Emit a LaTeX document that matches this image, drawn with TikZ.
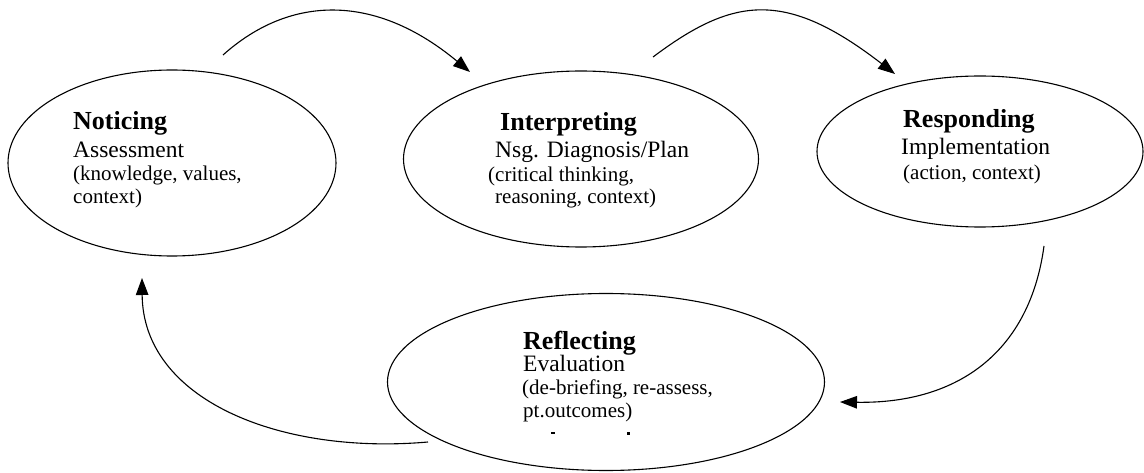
\documentclass[tikz,border=0pt]{standalone}
\usepackage{fontspec}
\setmainfont{Liberation Serif}
\usetikzlibrary{shapes.geometric,arrows.meta}

\tikzset{
  stage/.style={ellipse, draw, line width=1.1pt, inner sep=0pt},
  head/.style={anchor=base west, inner sep=0pt, font=\fontsize{26}{30}\selectfont\bfseries},
  body/.style={anchor=base west, inner sep=0pt, font=\fontsize{23.5}{28}\selectfont},
  note/.style={anchor=base west, inner sep=0pt, font=\fontsize{21}{25}\selectfont},
  flow/.style={line width=1.1pt, -{Triangle[length=17pt,width=12.5pt]}}
}

\begin{document}
\begin{tikzpicture}[x=1pt,y=-1pt]
\useasboundingbox (0,0) rectangle (1144,473);

% the four stages of the cycle
\node[stage, minimum width=328pt, minimum height=186pt] (notice) at (172,163) {};
\node[stage, minimum width=355pt, minimum height=176pt] (interp) at (581,159) {};
\node[stage, minimum width=326pt, minimum height=151pt] (respond) at (980,151.5) {};
\node[stage, minimum width=437pt, minimum height=177pt] (reflect) at (606,382) {};

% Noticing
\node[head] (t1a) at (73,130) {Noticing};
\node[body] (t1b) at (73,158) {Assessment};
\node[note] (t1c) at (73,181) {(knowledge, values,};
\node[note] (t1d) at (73,204) {context)};

% Interpreting
\node[head] (t2a) at (500,131) {Interpreting};
\node[body] (t2b) at (495,158) {Nsg. Diagnosis/Plan};
\node[note] (t2c) at (488,182) {(critical thinking,};
\node[note] (t2d) at (495,204) {reasoning, context)};

% Responding
\node[head] (t3a) at (903,128) {Responding};
\node[body] (t3b) at (901,155) {Implementation};
\node[note] (t3c) at (903,180) {(action, context)};

% Reflecting
\node[head] (t4a) at (523,349) {Reflecting};
\node[body] (t4b) at (523,371) {Evaluation};
\node[note] (t4c) at (522,394) {(de-briefing, re-assess,};
\node[note] (t4d) at (523,417) {pt.outcomes)};
\fill (551,432) rectangle (555,433.5);
\fill (627,432) rectangle (629.5,434.5);

% connector end points
\coordinate (a1s) at (223,55);
\coordinate (a1e) at (470,72);
\coordinate (a2s) at (653,57);
\coordinate (a2e) at (895,74);
\coordinate (a3s) at (1044,246);
\coordinate (a3e) at (840,402);
\coordinate (a4s) at (428,442);
\coordinate (a4e) at (142,278);

% arrows around the cycle
\draw[flow] (a1s) .. controls (290,-5) and (375,-7) .. (a1e);
\draw[flow] (a2s) .. controls (733,-3) and (785,-11) .. (a2e);
\draw[flow] (a3s) .. controls (1030,350) and (960,404) .. (a3e);
\draw[flow] (a4s) .. controls (280,455) and (143,400) .. (a4e);
\end{tikzpicture}
\end{document}
